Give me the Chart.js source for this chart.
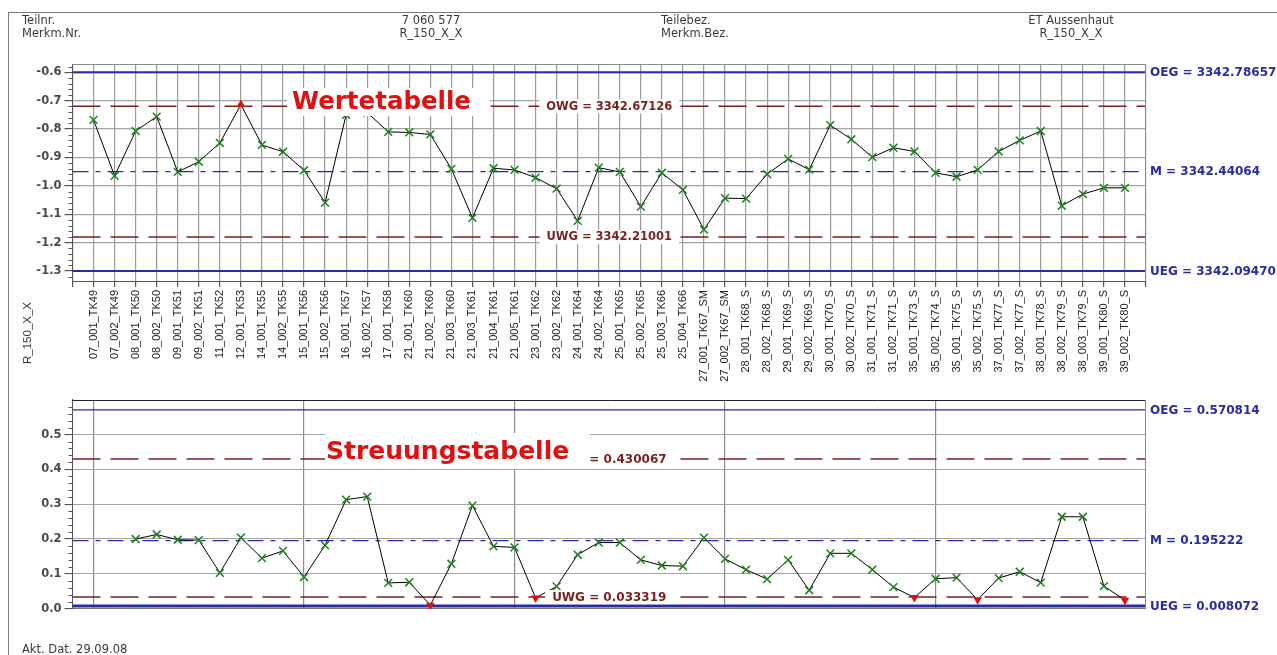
<!DOCTYPE html>
<html>
<head>
<meta charset="utf-8">
<script src="https://cdn.jsdelivr.net/npm/chart.js@4.4.1/dist/chart.umd.min.js"></script>
<style>
html,body{margin:0;padding:0;background:#fff;width:1277px;height:655px;overflow:hidden;position:relative;}
#frame{position:absolute;left:8px;top:12px;width:1400px;height:700px;border-left:1px solid #7a7a7a;border-top:1px solid #7a7a7a;}
.t{position:absolute;font-family:"DejaVu Sans",sans-serif;font-size:11.5px;color:#3a3a3a;white-space:nowrap;line-height:14px;}
.c{transform:translateX(-50%);}
canvas{position:absolute;left:0;}
#cTop{top:0;}
#cBot{top:390px;}
#ytitle{position:absolute;left:27px;top:333px;transform:translate(-50%,-50%) rotate(-90deg);font-family:"Liberation Sans",Arial,sans-serif;font-size:11.5px;color:#333;white-space:nowrap;}
</style>
</head>
<body>
<div id="frame"></div>
<canvas id="cTop" width="1277" height="390"></canvas>
<canvas id="cBot" width="1277" height="265"></canvas>
<div class="t" style="left:22px;top:13px">Teilnr.</div>
<div class="t" style="left:22px;top:26px">Merkm.Nr.</div>
<div class="t c" style="left:431px;top:13px">7 060 577</div>
<div class="t c" style="left:431px;top:26px">R_150_X_X</div>
<div class="t" style="left:661px;top:13px">Teilebez.</div>
<div class="t" style="left:661px;top:26px">Merkm.Bez.</div>
<div class="t c" style="left:1071px;top:13px">ET Aussenhaut</div>
<div class="t c" style="left:1071px;top:26px">R_150_X_X</div>
<div id="ytitle">R_150_X_X</div>
<div class="t" style="left:22px;top:642px">Akt. Dat. 29.09.08</div>
<script>
// ---------------- data ----------------
const categories = [
  '07_001_TK49','07_002_TK49','08_001_TK50','08_002_TK50','09_001_TK51','09_002_TK51','11_001_TK52','12_001_TK53',
  '14_001_TK55','14_002_TK55','15_001_TK56','15_002_TK56','16_001_TK57','16_002_TK57','17_001_TK58',
  '21_001_TK60','21_002_TK60','21_003_TK60','21_003_TK61','21_004_TK61','21_005_TK61',
  '23_001_TK62','23_002_TK62','24_001_TK64','24_002_TK64','25_001_TK65','25_002_TK65','25_003_TK66','25_004_TK66',
  '27_001_TK67_SM','27_002_TK67_SM','28_001_TK68_S','28_002_TK68_S','29_001_TK69_S','29_002_TK69_S',
  '30_001_TK70_S','30_002_TK70_S','31_001_TK71_S','31_002_TK71_S','35_001_TK73_S','35_002_TK74_S',
  '35_001_TK75_S','35_002_TK75_S','37_001_TK77_S','37_002_TK77_S','38_001_TK78_S','38_002_TK79_S',
  '38_003_TK79_S','39_001_TK80_S','39_002_TK80_S'
];
const werteValues = [
  -0.768,-0.965,-0.807,-0.756,-0.951,-0.915,-0.849,-0.714,-0.856,-0.880,-0.945,-1.059,-0.750,-0.742,-0.810,
  -0.812,-0.819,-0.940,-1.113,-0.938,-0.944,-0.971,-1.010,-1.123,-0.936,-0.951,-1.073,-0.954,-1.014,-1.154,
  -1.043,-1.045,-0.959,-0.905,-0.943,-0.786,-0.836,-0.899,-0.866,-0.879,-0.954,-0.968,-0.944,-0.879,-0.840,
  -0.807,-1.070,-1.029,-1.007,-1.007
];
const streuungValues = [
  null,null,0.200,0.213,0.198,0.197,0.103,0.204,0.145,0.166,0.091,0.182,0.313,0.322,0.074,0.076,0.010,
  0.129,0.296,0.179,0.176,0.031,0.064,0.155,0.190,0.190,0.140,0.124,0.122,0.204,0.143,0.112,0.085,0.140,
  0.053,0.159,0.159,0.112,0.062,0.032,0.086,0.089,0.026,0.088,0.106,0.075,0.264,0.264,0.065,0.024
];
// limit lines: OEG, OWG, M, UWG, UEG
const limitNames = ['OEG','OWG','M','UWG','UEG'];
const werteLimitValues = [-0.600,-0.720,-0.950,-1.180,-1.300];
const werteLimitText = ['3342.78657','3342.67126','3342.44064','3342.21001','3342.09470'];
const streuungLimitValues = [0.570814,0.430067,0.195222,0.033319,0.008072];
const streuungLimitText = ['0.570814','0.430067','0.195222','0.033319','0.008072'];
const werteTicks = { min:-1.335, max:-0.571, step:0.1 };
const streuungTicks = { min:0, max:0.5995, step:0.1 };

// ---------------- styling helpers ----------------
const BLUE = '#2a2aa4', DRED = '#7a1e1e', GREEN = '#1f7f1f', RED = '#e01010';

function limitDatasets(values, widths) {
  const styles = [
    {c:BLUE, w:widths[0], d:[]},
    {c:DRED, w:1.5, d:[28,10]},
    {c:BLUE, w:1.3, d:[16,7,5,7]},
    {c:DRED, w:1.5, d:[28,10]},
    {c:BLUE, w:widths[1], d:[]}
  ];
  return values.map((v,i)=>({
    data:[{x:-1,y:v},{x:50,y:v}],
    borderColor:styles[i].c, borderWidth:styles[i].w, borderDash:styles[i].d,
    pointRadius:0, order:2, tension:0
  }));
}

const overlay = {
  id:'overlay',
  afterDatasetsDraw(chart, args, o) {
    const ctx = chart.ctx, a = chart.chartArea, y = chart.scales.y;
    ctx.save();
    ctx.lineWidth = 1;
    ctx.strokeStyle = o.topBorder;
    ctx.beginPath(); ctx.moveTo(a.left, Math.round(a.top)+0.5); ctx.lineTo(a.right, Math.round(a.top)+0.5); ctx.stroke();
    ctx.strokeStyle = o.rightBorder;
    ctx.beginPath(); ctx.moveTo(Math.round(a.right)-0.5, a.top); ctx.lineTo(Math.round(a.right)-0.5, a.bottom); ctx.stroke();
    // minor ticks
    ctx.strokeStyle = '#555';
    const st = o.minorStep;
    for (let k = Math.ceil(y.min/st - 1e-9); k*st <= y.max + 1e-9; k++) {
      const v = k*st;
      if (Math.abs(Math.round(v*10) - v*10) < 1e-6) continue;
      const py = Math.round(y.getPixelForValue(v)) + 0.5;
      ctx.beginPath(); ctx.moveTo(a.left - 4, py); ctx.lineTo(a.left, py); ctx.stroke();
    }
    // right labels
    ctx.font = o.rightFont; ctx.fillStyle = BLUE; ctx.textBaseline = 'middle'; ctx.textAlign = 'left';
    o.rightLabels.forEach(l => ctx.fillText(l.text, a.right + 4, y.getPixelForValue(l.value) + 0.5));
    // inline labels
    ctx.font = o.inlineFont; ctx.textAlign = 'center';
    o.inlineLabels.forEach(l => {
      const py = y.getPixelForValue(l.value), cx = (a.left + a.right) / 2;
      const w = ctx.measureText(l.text).width;
      ctx.fillStyle = '#fff'; ctx.fillRect(cx - w/2 - 7, py - 7, w + 14, 14);
      ctx.fillStyle = DRED; ctx.fillText(l.text, cx, py + 0.5);
    });
    // title box
    const t = o.title;
    ctx.fillStyle = '#fff'; ctx.fillRect(t.box[0], t.box[1], t.box[2], t.box[3]);
    ctx.font = t.font; ctx.fillStyle = RED; ctx.textAlign = 'left'; ctx.textBaseline = 'alphabetic';
    ctx.fillText(t.text, t.x, t.y);
    ctx.restore();
  }
};

const tickFont = {family:'"DejaVu Sans"', size:11.5, weight:'bold'};

// ---------------- top chart: Wertetabelle ----------------
const werteOWG = werteLimitValues[1];
new Chart(document.getElementById('cTop'), {
  type:'line',
  data:{datasets:[
    {
      data: werteValues.map((v,i)=>({x:i,y:v})),
      borderColor:'#000', borderWidth:1, tension:0, order:0,
      pointStyle: c => c.raw && c.raw.y > werteOWG ? 'triangle' : 'crossRot',
      pointRadius: c => c.raw && c.raw.y > werteOWG ? 3.5 : 5.5,
      pointBorderColor: c => c.raw && c.raw.y > werteOWG ? RED : GREEN,
      pointBackgroundColor: c => c.raw && c.raw.y > werteOWG ? RED : GREEN,
      pointBorderWidth:1.5
    },
    ...limitDatasets(werteLimitValues, [2, 2])
  ]},
  options:{
    responsive:false, animation:false, devicePixelRatio:1,
    layout:{padding:{left:0, top:64, right:131, bottom:0}},
    plugins:{
      legend:{display:false}, tooltip:{enabled:false},
      overlay:{
        topBorder:'#8a8a8a', rightBorder:'#8a8a8a', minorStep:0.02,
        rightFont:'bold 12px "DejaVu Sans"', inlineFont:'bold 11.5px "DejaVu Sans"',
        rightLabels:[0,2,4].map(i=>({value:werteLimitValues[i], text:limitNames[i]+' = '+werteLimitText[i]})),
        inlineLabels:[1,3].map(i=>({value:werteLimitValues[i], text:limitNames[i]+' = '+werteLimitText[i]})),
        title:{text:'Wertetabelle', font:'bold 24.5px "DejaVu Sans"', x:292, y:109, box:[287,88,203,28]}
      }
    },
    scales:{
      x:{
        type:'linear', min:-1, max:50,
        afterFit(s){ s.height = 109; },
        ticks:{stepSize:1, autoSkip:false, minRotation:90, maxRotation:90, padding:3,
               font:{family:'"Liberation Sans"', size:11}, color:'#222',
               callback:v => categories[Math.round(v)] ?? ''},
        grid:{color:'#9c9c9c', lineWidth:1.2, tickLength:6, tickColor:'#555'},
        border:{color:'#555', width:1}
      },
      y:{
        min:werteTicks.min, max:werteTicks.max,
        afterFit(s){ s.width = 72.5; },
        ticks:{stepSize:werteTicks.step, includeBounds:false, padding:3, font:tickFont, color:'#4a4a4a',
               callback:v => v.toFixed(1)},
        grid:{color:'#a4a4a4', lineWidth:1.2, tickLength:8, tickColor:'#555'},
        border:{color:'#555', width:1}
      }
    }
  },
  plugins:[overlay]
});

// ---------------- bottom chart: Streuungstabelle ----------------
const streuUWG = streuungLimitValues[3];
new Chart(document.getElementById('cBot'), {
  type:'line',
  data:{datasets:[
    {
      data: streuungValues.map((v,i)=>({x:i,y:v})).filter(p=>p.y!==null),
      borderColor:'#000', borderWidth:1, tension:0, order:0,
      pointStyle: c => c.raw && c.raw.y < streuUWG ? 'triangle' : 'crossRot',
      pointRotation: c => c.raw && c.raw.y < streuUWG ? 180 : 0,
      pointRadius: c => c.raw && c.raw.y < streuUWG ? 3.5 : 5.5,
      pointBorderColor: c => c.raw && c.raw.y < streuUWG ? RED : GREEN,
      pointBackgroundColor: c => c.raw && c.raw.y < streuUWG ? RED : GREEN,
      pointBorderWidth:1.5
    },
    ...limitDatasets(streuungLimitValues, [1.2, 3])
  ]},
  options:{
    responsive:false, animation:false, devicePixelRatio:1,
    layout:{padding:{left:0, top:6.7, right:131, bottom:46.3}},
    plugins:{
      legend:{display:false}, tooltip:{enabled:false},
      overlay:{
        topBorder:'#222', rightBorder:'#8a8a8a', minorStep:0.02,
        rightFont:'bold 12px "DejaVu Sans"', inlineFont:'bold 12px "DejaVu Sans"',
        rightLabels:[0,2,4].map(i=>({value:streuungLimitValues[i], text:limitNames[i]+' = '+streuungLimitText[i]})),
        inlineLabels:[1,3].map(i=>({value:streuungLimitValues[i], text:limitNames[i]+' = '+streuungLimitText[i]})),
        title:{text:'Streuungstabelle', font:'bold 25px "DejaVu Sans"', x:326, y:68.5, box:[325,43,265,36]}
      }
    },
    scales:{
      x:{
        type:'linear', min:-1, max:50,
        afterFit(s){ s.height = 0; },
        ticks:{display:false, stepSize:1, autoSkip:false, maxRotation:0},
        grid:{drawTicks:false, lineWidth:1.2,
              color: c => (c.tick && c.tick.value >= 0 && c.tick.value < 50 && Math.round(c.tick.value) % 10 === 0) ? '#8c8c8c' : 'rgba(0,0,0,0)'},
        border:{color:'#777', width:1}
      },
      y:{
        min:streuungTicks.min, max:streuungTicks.max,
        afterFit(s){ s.width = 72.5; },
        ticks:{stepSize:streuungTicks.step, includeBounds:false, padding:3, font:tickFont, color:'#4a4a4a',
               callback:v => v.toFixed(1)},
        grid:{color:'#a4a4a4', lineWidth:1.1, tickLength:8, tickColor:'#555'},
        border:{color:'#555', width:1}
      }
    }
  },
  plugins:[overlay]
});
</script>
</body>
</html>
